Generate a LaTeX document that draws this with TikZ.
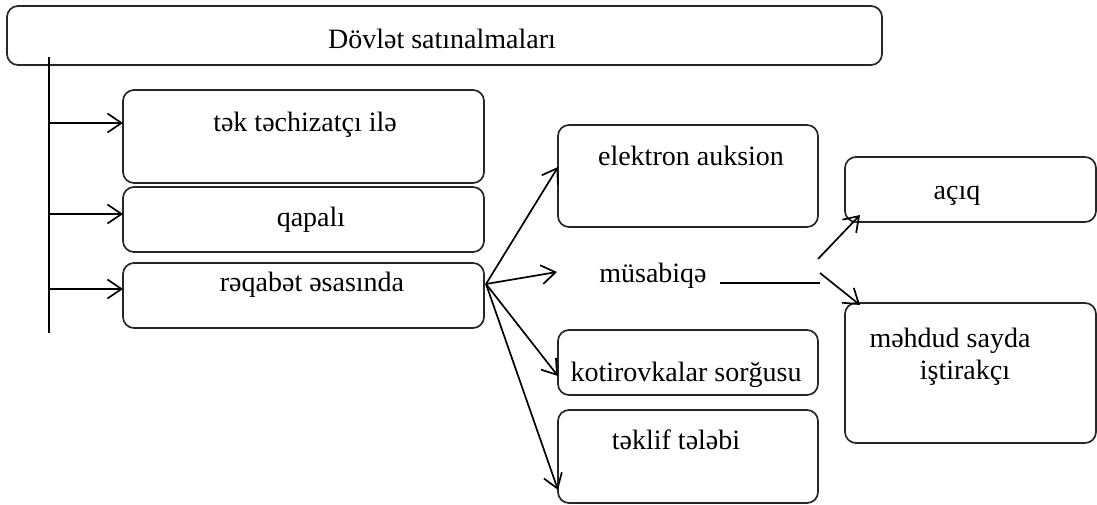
\documentclass[tikz,border=0pt]{standalone}
\usepackage{fontspec}
\setmainfont{Liberation Serif}
\usetikzlibrary{arrows.meta}
\begin{document}
\begin{tikzpicture}[x=1pt,y=-1pt,
  box/.style={draw=black!85,line width=1.7pt,rounded corners=11pt,inner sep=0pt},
  txt/.style={font=\fontsize{28}{32}\selectfont,inner sep=0pt,anchor=base},
  arr/.style={line width=1.7pt,-{Straight Barb[length=14pt,width=19pt,line width=1.7pt]}},
  ln/.style={line width=1.7pt}]
\useasboundingbox (0,0) rectangle (1097,505);
% top box
\draw[box] (7,6) rectangle (882,65);
\node[txt] (top) at (442,49) {Dövlət satınalmaları};
\coordinate (vtop) at (49,57);
\coordinate (vbot) at (49,333);
\draw[ln] (vtop) -- (vbot);
% left column boxes
\draw[box] (123,90) rectangle (484,183);
\node[txt] (b1) at (305,132) {tək təchizatçı ilə};
\draw[box] (123,187) rectangle (484,252);
\node[txt] (b2) at (311,226) {qapalı};
\draw[box] (123,263) rectangle (484,328);
\node[txt] (b3) at (312,291) {rəqabət əsasında};
\coordinate (l1) at (49,123); \coordinate (t1) at (123,123);
\coordinate (l2) at (49,214); \coordinate (t2) at (123,214);
\coordinate (l3) at (49,289); \coordinate (t3) at (123,289);
\draw[arr] (l1) -- (t1);
\draw[arr] (l2) -- (t2);
\draw[arr] (l3) -- (t3);
% middle column
\draw[box] (558,125) rectangle (818,227);
\node[txt] (e1) at (691,166) {elektron auksion};
\node[txt] (mu) at (653,282) {müsabiqə};
\coordinate (ml1) at (720,283); \coordinate (ml2) at (820,283);
\draw[ln] (ml1) -- (ml2);
\draw[box] (558,330) rectangle (818,395);
\node[txt] (ko) at (686,381) {kotirovkalar sorğusu};
\draw[box] (558,410) rectangle (818,503);
\node[txt] (te) at (676,449) {təklif tələbi};
\coordinate (o) at (486,284);
\coordinate (ta) at (558,167);
\coordinate (tb) at (557,272);
\coordinate (tc) at (558,376);
\coordinate (td) at (558,490);
\draw[arr] (o) -- (ta);
\draw[arr] (o) -- (tb);
\draw[arr] (o) -- (tc);
\draw[arr] (o) -- (td);
% right column
\draw[box] (845,157) rectangle (1096,222);
\node[txt] (ac) at (957,200) {açıq};
\draw[box] (845,303) rectangle (1096,443);
\node[txt] (mh1) at (950,347) {məhdud sayda};
\node[txt] (mh2) at (965,379) {iştirakçı};
\coordinate (s1) at (818,259); \coordinate (e1t) at (860,215);
\coordinate (s2) at (820,273); \coordinate (e2t) at (860,305);
\draw[arr] (s1) -- (e1t);
\draw[arr] (s2) -- (e2t);
\end{tikzpicture}
\end{document}
